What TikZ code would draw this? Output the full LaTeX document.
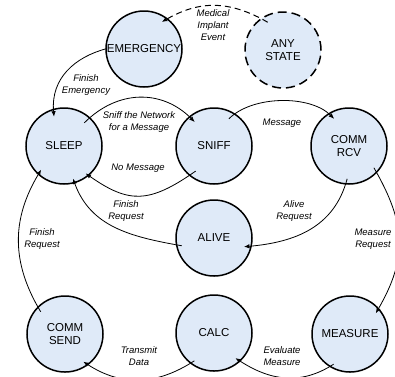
\documentclass[tikz,border=0pt]{standalone}
\usepackage{fontspec}
\setmainfont{Liberation Sans}
\usetikzlibrary{arrows.meta}
\definecolor{statefill}{RGB}{223,234,248}
\begin{document}
\begin{tikzpicture}[x=1pt,y=1pt,
  state/.style={circle, draw, line width=1.5pt, fill=statefill, minimum size=76pt,
    inner sep=0pt, align=center, font=\fontsize{11.5}{13.5}\selectfont},
  anystate/.style={state, dash pattern=on 9pt off 5pt},
  trans/.style={line width=0.8pt, -{Latex[length=5.5pt,width=4.5pt]}},
  lbl/.style={align=center, inner sep=0pt, font=\fontsize{9.5}{12}\selectfont\itshape},
]
\useasboundingbox (0,0) rectangle (395,-376);

% states
\node[state]    (emerg)   at (144,-49)  {EMERGENCY};
\node[anystate] (any)     at (283,-50)  {ANY\\STATE};
\node[state]    (sleep)   at (64,-146)  {SLEEP};
\node[state]    (sniff)   at (214,-146) {SNIFF};
\node[state]    (rcv)     at (349,-146) {COMM\\RCV};
\node[state]    (alive)   at (214,-238) {ALIVE};
\node[state]    (send)    at (65,-334)  {COMM\\SEND};
\node[state]    (calc)    at (214,-333) {CALC};
\node[state]    (measure) at (350,-334) {MEASURE};

% transitions
\draw[trans, line width=1pt, dash pattern=on 6pt off 4pt, shorten <=-8pt, shorten >=-7pt]
  (any.125) to[out=150,in=30] (emerg.52);
\draw[trans, shorten <=-1pt, shorten >=-8pt]
  (emerg.180) to[out=195,in=95] (sleep.106);
\draw[trans, shorten <=-8pt, shorten >=-8pt]
  (sleep.48) to[out=45,in=135,looseness=1] (sniff.130);
\draw[trans, shorten <=-8pt, shorten >=-4pt]
  (sniff.230) to[out=215,in=325,looseness=1.25] (sleep.310);
\draw[trans, shorten <=-8pt, shorten >=-8pt]
  (sniff.58) to[out=45,in=135,looseness=0.7] (rcv.122);
\draw[trans, shorten <=-6pt, shorten >=-8pt]
  (rcv.265) to[out=255,in=5] (alive.348);
\draw[trans, shorten <=-6pt, shorten >=-5pt]
  (alive.190) to[out=170,in=290] (sleep.286);
\draw[trans, shorten <=-6pt, shorten >=-6pt]
  (send.135) to[out=121,in=239] (sleep.228);
\draw[trans, shorten <=-6pt, shorten >=-6pt]
  (rcv.316) to[out=-60,in=60,looseness=1.1] (measure.42);
\draw[trans, shorten <=-5pt, shorten >=-6pt]
  (measure.238) to[out=213,in=327] (calc.313);
\draw[trans, shorten <=-5pt, shorten >=-6pt]
  (calc.232) to[out=213,in=327] (send.307);

% transition labels
\node[lbl] (l-event)   at (213,-25.5) {Medical\\Implant\\Event};
\node[lbl] (l-femerg)  at (86,-85.5)  {Finish\\Emergency};
\node[lbl] (l-sniff)   at (139,-122.5) {Sniff the Network\\for a Message};
\node[lbl] (l-nomsg)   at (138,-168)  {No Message};
\node[lbl] (l-msg)     at (282,-123)  {Message};
\node[lbl] (l-alive)   at (294,-211)  {Alive\\Request};
\node[lbl] (l-freq1)   at (126,-211.5) {Finish\\Request};
\node[lbl] (l-freq2)   at (42,-239)   {Finish\\Request};
\node[lbl] (l-measure) at (373,-239)  {Measure\\Request};
\node[lbl] (l-transmit) at (139,-356) {Transmit\\Data};
\node[lbl] (l-evaluate) at (282,-356) {Evaluate\\Measure};
\end{tikzpicture}
\end{document}
